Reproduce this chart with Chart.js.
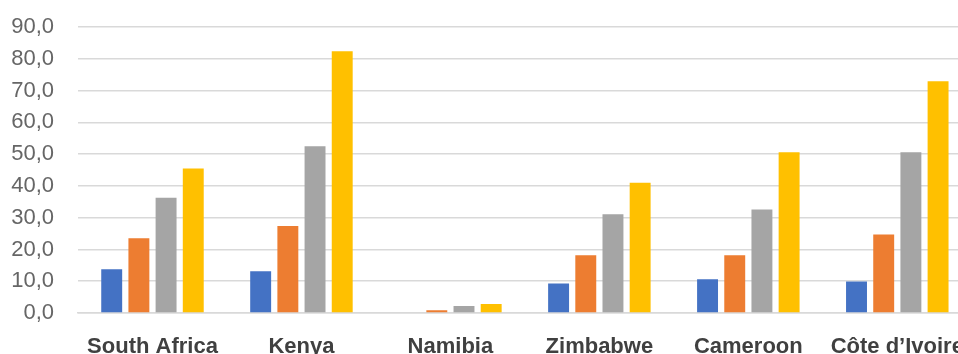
<!DOCTYPE html>
<html>
<head>
<meta charset="utf-8">
<script src="https://cdn.jsdelivr.net/npm/chart.js@4"></script>
<style>
  html, body { margin: 0; padding: 0; overflow: hidden; background: #fff; }
  #chart { display: block; }
</style>
</head>
<body>
<canvas id="chart" width="985" height="361"></canvas>
<script>
// categories and values
var countries = ["South Africa", "Kenya", "Namibia", "Zimbabwe", "Cameroon", "Côte d\u2019Ivoire"];
var series1 = [13.8, 13.1, 0.0, 9.3, 10.6, 9.9];
var series2 = [23.5, 27.4, 0.9, 18.2, 18.2, 24.7];
var series3 = [36.3, 52.5, 2.2, 31.1, 32.6, 50.6];
var series4 = [45.5, 82.4, 2.8, 41.0, 50.6, 72.9];
var yTickLabels = ["0,0", "10,0", "20,0", "30,0", "40,0", "50,0", "60,0", "70,0", "80,0", "90,0"];

var ctx = document.getElementById("chart").getContext("2d");

var chart = new Chart(ctx, {
  type: "bar",
  data: {
    labels: countries,
    datasets: [
      { label: "Series 1", data: series1, backgroundColor: "#4472C4" },
      { label: "Series 2", data: series2, backgroundColor: "#ED7D31" },
      { label: "Series 3", data: series3, backgroundColor: "#A5A5A5" },
      { label: "Series 4", data: series4, backgroundColor: "#FFC000" },
    ],
  },
  options: {
    responsive: false,
    animation: false,
    categoryPercentage: 0.73,
    barPercentage: 0.77,
    layout: {
      padding: { left: 11, top: 27, right: 1, bottom: 0 },
    },
    plugins: {
      legend: { display: false },
      tooltip: { enabled: false },
    },
    scales: {
      x: {
        grid: { display: false, drawTicks: false },
        border: { display: true, color: "#d9d9d9", width: 1.5 },
        ticks: {
          color: "#404040",
          padding: 21,
          maxRotation: 0,
          autoSkip: false,
          font: { family: "'Liberation Sans', Arial, sans-serif", size: 22, weight: "bold" },
        },
        afterFit: function (scale) {
          scale.height = 48;
        },
      },
      y: {
        min: 0,
        max: 90,
        grid: { color: "#d9d9d9", lineWidth: 1.5, drawTicks: false },
        border: { display: false },
        ticks: {
          stepSize: 10,
          autoSkip: false,
          color: "#666666",
          padding: 24,
          font: { family: "'Liberation Sans', Arial, sans-serif", size: 22 },
          callback: function (value, index) {
            return yTickLabels[index];
          },
        },
        afterFit: function (scale) {
          scale.width = 67;
          scale.paddingTop = 0;
          scale.paddingBottom = 0;
        },
      },
    },
  },
});
</script>
</body>
</html>
